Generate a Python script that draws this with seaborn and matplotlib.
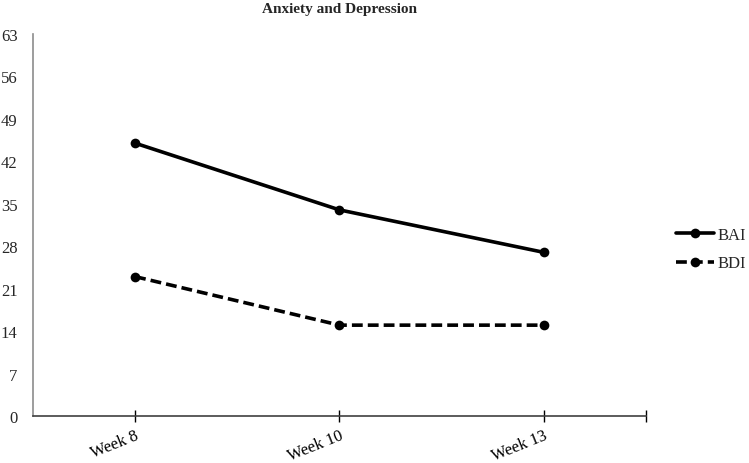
import pandas as pd
import matplotlib.pyplot as plt
import seaborn as sns

# Values
weeks = ["Week 8", "Week 10", "Week 13"]
bai = [45, 34, 27]
bdi = [23, 15, 15]
y_ticks = [0, 7, 14, 21, 28, 35, 42, 49, 56, 63]

df = pd.DataFrame({
    "week": weeks * 2,
    "score": bai + bdi,
    "scale": ["BAI"] * len(weeks) + ["BDI"] * len(weeks),
})

sns.set_style("white")
plt.rcParams["font.family"] = ["Liberation Serif", "DejaVu Serif"]

fig = plt.figure(figsize=(7.49, 4.64), dpi=100)
ax = fig.add_axes([0.044, 0.101, 0.8185, 0.8236])

sns.lineplot(data=df, x="week", y="score", style="scale", color="black",
             markers={"BAI": "o", "BDI": "o"},
             dashes={"BAI": "", "BDI": (3, 1.4)},
             linewidth=2.6, markersize=7, markeredgewidth=0, ax=ax)

ax.set_xlim(-0.5, 2.5)
ax.set_ylim(0, 63)
ax.set_yticks(y_ticks)
ax.set_xticks([0, 1, 2, 2.5])
ax.set_xticklabels(weeks + [""], rotation=22, ha="right", rotation_mode="anchor",
                   fontsize=12)
ax.tick_params(axis="x", bottom=True, direction="inout", length=8, width=1,
               pad=4, colors="black")
ax.tick_params(axis="y", left=False, length=0, labelsize=12, pad=11)
ax.set_xlabel("")
ax.set_ylabel("")

for s in ["top", "right"]:
    ax.spines[s].set_visible(False)
ax.spines["left"].set_color("#8c8c8c")
ax.spines["left"].set_linewidth(1.2)
ax.spines["bottom"].set_color("#404040")
ax.spines["bottom"].set_linewidth(1.2)

ax.set_title("Anxiety and Depression", fontsize=11, fontweight="bold", pad=16)

ax.legend(frameon=False, loc="center left", bbox_to_anchor=(1.049, 0.437),
          borderaxespad=0, borderpad=0,
          fontsize=12, handlelength=2.3, handletextpad=0.2, labelspacing=0.75)

fig.savefig("out.png", dpi=100)
